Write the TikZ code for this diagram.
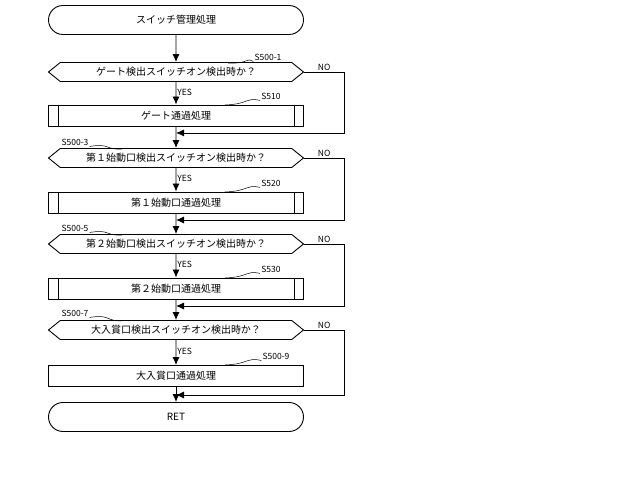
\documentclass[tikz,border=0pt]{standalone}
\usepackage{fontspec}
\setmainfont{Noto Sans CJK JP}
\usetikzlibrary{shapes.misc,shapes.symbols,arrows.meta}
\tikzset{
  term/.style={draw, rounded rectangle, minimum width=255pt, minimum height=29pt, inner sep=0pt},
  decide/.style={draw, signal, signal to=east and west, signal pointer angle=78, minimum width=255pt, minimum height=19pt, inner sep=0pt},
  proc/.style={draw, minimum width=255pt, minimum height=21pt, inner sep=0pt},
  flow/.style={-{Latex[length=8pt,width=7pt]}},
  lbl/.style={font=\fontsize{8.5}{9}\selectfont, inner sep=1pt},
}
\begin{document}
\begin{tikzpicture}[x=1pt,y=-1pt,font=\fontsize{10}{12}\selectfont,line width=0.9pt]
  \useasboundingbox (0,0) rectangle (640,478);
  % blocks
  \node[term] (start) at (176,20) {スイッチ管理処理};
  \node[decide] (d1) at (176,72) {ゲート検出スイッチオン検出時か？};
  \node[proc] (p1) at (176,115.5) {ゲート通過処理};
  \coordinate (m1) at (176,133);
  \node[decide] (d2) at (176,158) {第１始動口検出スイッチオン検出時か？};
  \node[proc] (p2) at (176,202.5) {第１始動口通過処理};
  \coordinate (m2) at (176,220);
  \node[decide] (d3) at (176,244) {第２始動口検出スイッチオン検出時か？};
  \node[proc] (p3) at (176,288.5) {第２始動口通過処理};
  \coordinate (m3) at (176,306);
  \node[decide] (d4) at (176,330) {大入賞口検出スイッチオン検出時か？};
  \node[proc] (p4) at (176,376) {大入賞口通過処理};
  \coordinate (m4) at (176,395);
  \node[term] (ret) at (176,417) {RET};
  % double side bars
  \foreach \p in {p1,p2,p3} {
    \draw ([xshift=10pt]\p.north west) -- ([xshift=10pt]\p.south west);
    \draw ([xshift=-10pt]\p.north east) -- ([xshift=-10pt]\p.south east);
  }
  % main line
  \draw[flow] (start) -- (d1);
  \draw[flow] (d1) -- node[lbl, right, pos=0.45] {YES} (p1);
  \draw[flow] (p1) -- (d2);
  \draw[flow] (d2) -- node[lbl, right, pos=0.45] {YES} (p2);
  \draw[flow] (p2) -- (d3);
  \draw[flow] (d3) -- node[lbl, right, pos=0.45] {YES} (p3);
  \draw[flow] (p3) -- (d4);
  \draw[flow] (d4) -- node[lbl, right, pos=0.45] {YES} (p4);
  \draw[flow] (p4) -- (ret);
  % NO branches
  \draw[flow] (d1.east) -- node[lbl, above, pos=0.5] {NO} ++(40,0) |- (m1);
  \draw[flow] (d2.east) -- node[lbl, above, pos=0.5] {NO} ++(40,0) |- (m2);
  \draw[flow] (d3.east) -- node[lbl, above, pos=0.5] {NO} ++(40,0) |- (m3);
  \draw[flow] (d4.east) -- node[lbl, above, pos=0.5] {NO} ++(40,0) |- (m4);
  % step labels
  \begin{scope}[line width=0.5pt]
  \node[lbl] (s1) at (268,57) {S500-1};
  \draw (s1.south west) .. controls (245,57) and (250,64) .. (228,63);
  \node[lbl] (s510) at (271,96) {S510};
  \draw (s510.south west) .. controls (245,97) and (250,104) .. (225,105);
  \node[lbl] (s3) at (75,142) {S500-3};
  \draw (s3.south east) .. controls (110,143) and (105,150) .. (122,149);
  \node[lbl] (s520) at (271,183) {S520};
  \draw (s520.south west) .. controls (245,184) and (250,191) .. (225,192);
  \node[lbl] (s5) at (75,228) {S500-5};
  \draw (s5.south east) .. controls (110,229) and (105,236) .. (122,235);
  \node[lbl] (s530) at (271,269) {S530};
  \draw (s530.south west) .. controls (245,270) and (250,277) .. (225,278);
  \node[lbl] (s7) at (75,313) {S500-7};
  \draw (s7.south east) .. controls (110,314) and (105,321) .. (122,321);
  \node[lbl] (s9) at (276,356) {S500-9};
  \draw (s9.south west) .. controls (245,357) and (250,364) .. (225,365);
  \end{scope}
\end{tikzpicture}
\end{document}
